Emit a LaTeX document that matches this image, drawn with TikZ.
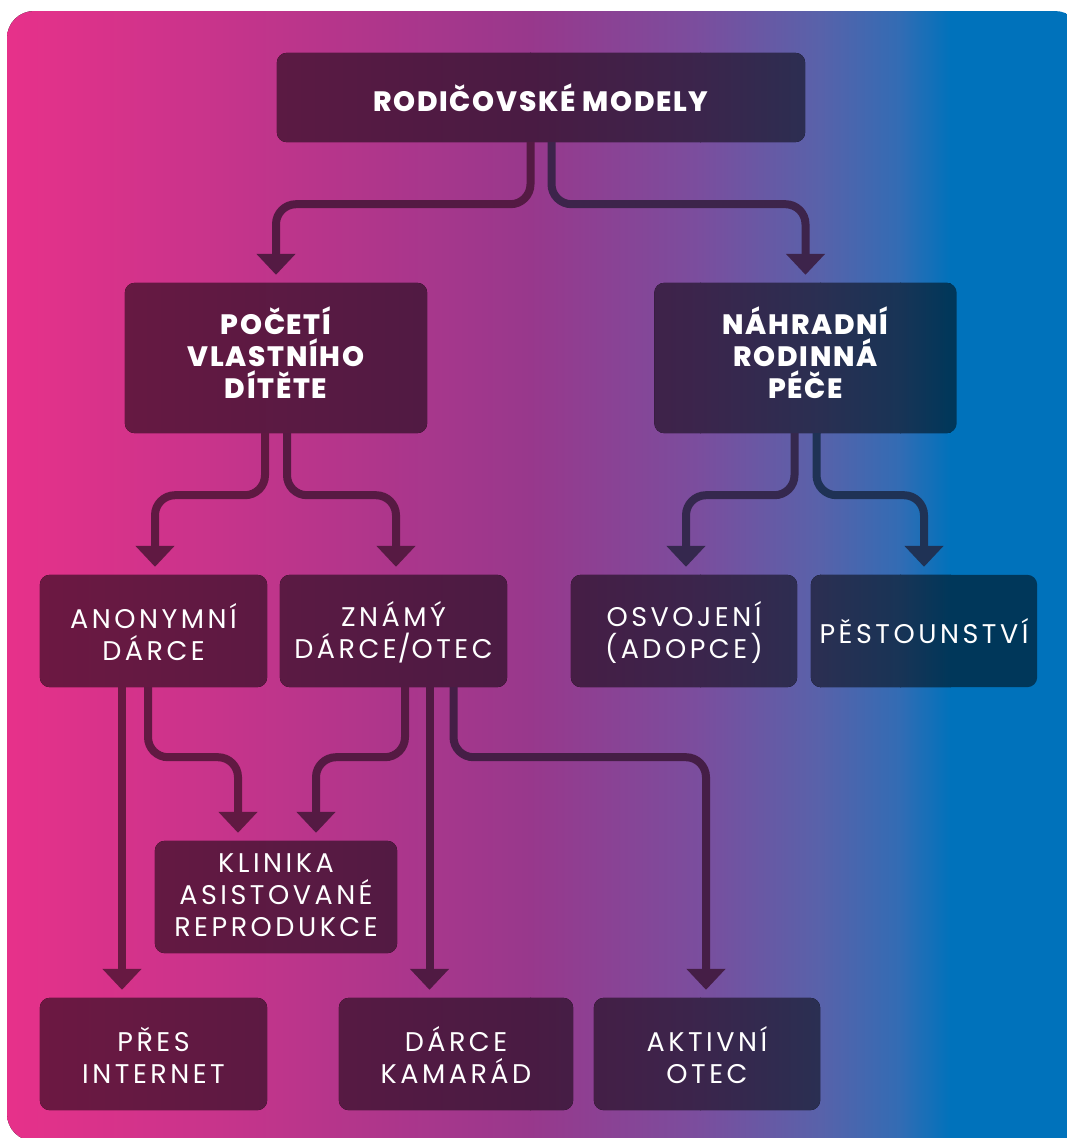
\documentclass[tikz,border=0pt]{standalone}
\usepackage{fontspec}
\setmainfont{Poppins}
\newfontfamily\regf{Poppins}[LetterSpace=13]
\newfontfamily\boldf{Poppins ExtraBold}[LetterSpace=6]
\usetikzlibrary{arrows.meta,calc}
% background gradient
\definecolor{g0}{RGB}{232,49,138}
\definecolor{g1}{RGB}{152,56,140}
\definecolor{g2}{RGB}{122,78,158}
\definecolor{g3}{RGB}{88,98,170}
\definecolor{g4}{RGB}{50,108,180}
\definecolor{g5}{RGB}{0,114,187}
% dark gradient for boxes
\definecolor{d0}{RGB}{111,24,66}
\definecolor{d1}{RGB}{73,27,67}
\definecolor{d2}{RGB}{59,37,76}
\definecolor{d3}{RGB}{42,47,82}
\definecolor{d4}{RGB}{24,52,86}
\definecolor{d5}{RGB}{0,55,90}
% connector colours
\definecolor{cA}{RGB}{84,26,67}
\definecolor{cB}{RGB}{61,36,75}
\definecolor{cC}{RGB}{96,25,66}
\definecolor{cD}{RGB}{87,26,67}
\definecolor{cE}{RGB}{53,40,78}
\definecolor{cF}{RGB}{31,50,85}
\definecolor{cG}{RGB}{103,25,66}
\definecolor{cH}{RGB}{97,25,66}
\definecolor{cI}{RGB}{85,26,67}
\definecolor{cJ}{RGB}{80,26,67}
\definecolor{cK}{RGB}{69,30,70}
\tikzset{
  x=1pt, y=1pt,
  boxshape/.style={rectangle, inner sep=0pt},
  conn/.style={line width=8pt, rounded corners=20pt,
    -{Triangle[width=38pt,length=21pt]}, shorten >=8pt},
  conn2/.style={line width=8pt,
    -{Triangle[width=38pt,length=21pt]}, shorten >=8pt},
  regtxt/.style={text=white, align=center, font=\regf\fontsize{27}{32}\selectfont},
  boldtxt/.style={text=white, align=center, font=\boldf\fontsize{28}{32}\selectfont},
}
\newcommand\boxclip[1]{(#1.south west) rectangle (#1.north east)}
\begin{document}
\begin{tikzpicture}
\useasboundingbox (0,0) rectangle (1067,-1138);
% background
\begin{scope}
  \clip[rounded corners=27pt] (7,-11) rectangle (1082,-1141);
  \fill[left color=g0, right color=g1] (0,0) rectangle (531,-1150);
  \fill[left color=g1, right color=g2] (530,0) rectangle (701,-1150);
  \fill[left color=g2, right color=g3] (700,0) rectangle (821,-1150);
  \fill[left color=g3, right color=g4] (820,0) rectangle (901,-1150);
  \fill[left color=g4, right color=g5] (900,0) rectangle (951,-1150);
  \fill[g5] (950,0) rectangle (1090,-1150);
\end{scope}
% box shapes (positions)
\node[boxshape, minimum width=528pt, minimum height=89pt] (top) at (541,-97.5) {};
\node[boxshape, minimum width=302pt, minimum height=150pt] (pv) at (276,-358) {};
\node[boxshape, minimum width=302pt, minimum height=150pt] (nrp) at (805.5,-358) {};
\node[boxshape, minimum width=227pt, minimum height=112pt] (anon) at (153.5,-631) {};
\node[boxshape, minimum width=227pt, minimum height=112pt] (znamy) at (393.5,-631) {};
\node[boxshape, minimum width=226pt, minimum height=112pt] (osv) at (684,-631) {};
\node[boxshape, minimum width=226pt, minimum height=112pt] (pest) at (924,-631) {};
\node[boxshape, minimum width=242pt, minimum height=112pt] (klin) at (276,-897) {};
\node[boxshape, minimum width=227pt, minimum height=112pt] (pres) at (153.5,-1054) {};
\node[boxshape, minimum width=234pt, minimum height=112pt] (kam) at (456,-1054) {};
\node[boxshape, minimum width=226pt, minimum height=112pt] (akt) at (707,-1054) {};
% dark fill of all boxes, following one gradient
\begin{scope}
  \clip[rounded corners=10pt] \boxclip{top} \boxclip{pv} \boxclip{nrp}
    \boxclip{anon} \boxclip{znamy} \boxclip{osv} \boxclip{pest}
    \boxclip{klin} \boxclip{pres} \boxclip{kam} \boxclip{akt};
  \fill[left color=d0, right color=d1] (0,0) rectangle (531,-1150);
  \fill[left color=d1, right color=d2] (530,0) rectangle (701,-1150);
  \fill[left color=d2, right color=d3] (700,0) rectangle (821,-1150);
  \fill[left color=d3, right color=d4] (820,0) rectangle (901,-1150);
  \fill[left color=d4, right color=d5] (900,0) rectangle (951,-1150);
  \fill[d5] (950,0) rectangle (1090,-1150);
\end{scope}
% connectors
\draw[conn, draw=cA] ([xshift=-10.5pt]top.south) -- ++(0,-62) -| (pv.north);
\draw[conn, draw=cB] ([xshift=10.5pt]top.south) -- ++(0,-62) -| (nrp.north);
\draw[conn, draw=cC] ([xshift=-11pt]pv.south) -- ++(0,-62) -| ([xshift=1.5pt]anon.north);
\draw[conn, draw=cD] ([xshift=11pt]pv.south) -- ++(0,-62) -| ([xshift=2.5pt]znamy.north);
\draw[conn, draw=cE] ([xshift=-11pt]nrp.south) -- ++(0,-62) -| ([xshift=2pt]osv.north);
\draw[conn, draw=cF] ([xshift=11pt]nrp.south) -- ++(0,-62) -| (pest.north);
\draw[conn2, draw=cG] ([xshift=-31.5pt]anon.south) -- ([xshift=-31.5pt]pres.north);
\draw[conn, draw=cH] ([xshift=-5.5pt]anon.south) -- ++(0,-70) -| ([xshift=-38pt]klin.north);
\draw[conn, draw=cI] ([xshift=11.5pt]znamy.south) -- ++(0,-70) -| ([xshift=40pt]klin.north);
\draw[conn2, draw=cJ] ([xshift=36pt]znamy.south) -- ([xshift=36pt]znamy.south |- kam.north);
\draw[conn, draw=cK] ([xshift=60pt]znamy.south) -- ++(0,-70) -| ([xshift=-1pt]akt.north);
% texts
\node[boldtxt] (top-t) at (top) {RODIČOVSKÉ MODELY};
\node[boldtxt] (pv-t) at ([yshift=5pt]pv.center) {POČETÍ\\VLASTNÍHO\\DÍTĚTE};
\node[boldtxt] (nrp-t) at ([yshift=5pt]nrp.center) {NÁHRADNÍ\\RODINNÁ\\PÉČE};
\node[regtxt] (anon-t) at ([yshift=-1pt]anon.center) {ANONYMNÍ\\DÁRCE};
\node[regtxt] (znamy-t) at ([yshift=-1pt]znamy.center) {ZNÁMÝ\\DÁRCE\kern1pt/\kern1pt OTEC};
\node[regtxt] (osv-t) at ([yshift=-1pt]osv.center) {OSVOJENÍ\\(ADOPCE)};
\node[regtxt] (pest-t) at (pest) {PĚSTOUNSTVÍ};
\node[regtxt] (klin-t) at ([yshift=2pt]klin.center) {KLINIKA\\ASISTOVANÉ\\REPRODUKCE};
\node[regtxt] (pres-t) at ([yshift=-1pt]pres.center) {PŘES\\INTERNET};
\node[regtxt] (kam-t) at ([yshift=-1pt]kam.center) {DÁRCE\\KAMARÁD};
\node[regtxt] (akt-t) at ([yshift=-1pt]akt.center) {AKTIVNÍ\\OTEC};
\end{tikzpicture}
\end{document}
